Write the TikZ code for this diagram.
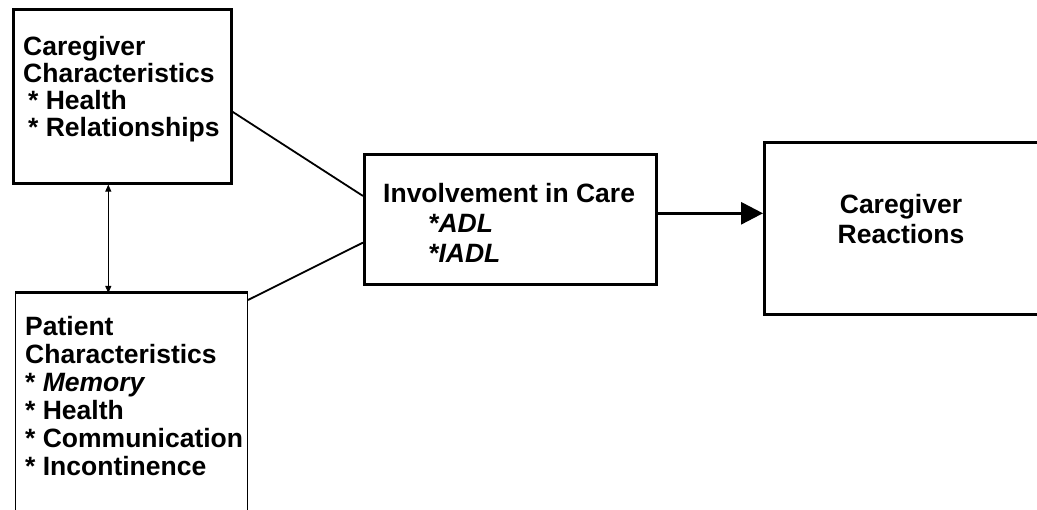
\documentclass[tikz,border=0pt]{standalone}
\usepackage{fontspec}
\setmainfont{Liberation Sans}
\usetikzlibrary{positioning,arrows.meta}

\begin{document}
\begin{tikzpicture}[x=1pt, y=-1pt,
	boxframe/.style={draw, line width=2.6pt, anchor=north west, inner sep=0pt},
	boxtext/.style={anchor=north west, inner sep=0pt, align=left, font=\fontsize{26.5}{27}\selectfont\bfseries},
	link/.style={line width=1.8pt}]
	\useasboundingbox (0, 0) rectangle (1037, 510);
	\clip (0, 0) rectangle (1037, 510);

	\node[boxframe, minimum width=218pt, minimum height=174pt] (cgframe) at (12, 8) {};
	\node[boxframe, line width=1pt, minimum width=232pt, minimum height=240pt] (ptframe) at (15, 293) {};
	\draw[line width=3pt] (ptframe.north west) -- (ptframe.north east);
	\node[boxframe, minimum width=292pt, minimum height=130pt] (invframe) at (363, 153) {};
	\node[boxframe, minimum width=300pt, minimum height=172pt] (reframe) at (763, 141) {};

	\node[boxtext, below right=28pt and 11pt of cgframe.north west] (cgtext) {Caregiver\\Characteristics\\\hspace*{5pt}* Health\\\hspace*{5pt}* Relationships};
	\node[boxtext, font=\fontsize{26.5}{28}\selectfont\bfseries, below right=23pt and 10pt of ptframe.north west] (pttext) {Patient\\Characteristics\\* \textit{Memory}\\* Health\\*~Communication\\* Incontinence};
	\node[boxtext, font=\fontsize{26.5}{30}\selectfont\bfseries, below right=30pt and 20pt of invframe.north west] (invtext) {Involvement in Care\\\hspace*{45pt}\textit{*ADL}\\\hspace*{45pt}\textit{*IADL}};
	\node[boxtext, align=center, font=\fontsize{26.5}{30}\selectfont\bfseries, below right=53pt and 138pt of reframe.north west, anchor=north] (retext) {Caregiver\\Reactions};

	\draw[link] (cgframe.-8) -- (invframe.171);
	\draw[link] ([yshift=-7pt]ptframe.north east) -- (invframe.189);
	\draw[{Triangle[length=7pt, width=6pt]}-{Triangle[length=7pt, width=6pt]}, line width=0.8pt] ([xshift=-14pt]cgframe.south) coordinate (u) -- (u |- ptframe.north);
	\draw[line width=3pt, -{Triangle[length=22pt, width=22pt]}] ([yshift=6pt]invframe.east) coordinate (v) -- (v -| reframe.west);
\end{tikzpicture}
\end{document}
